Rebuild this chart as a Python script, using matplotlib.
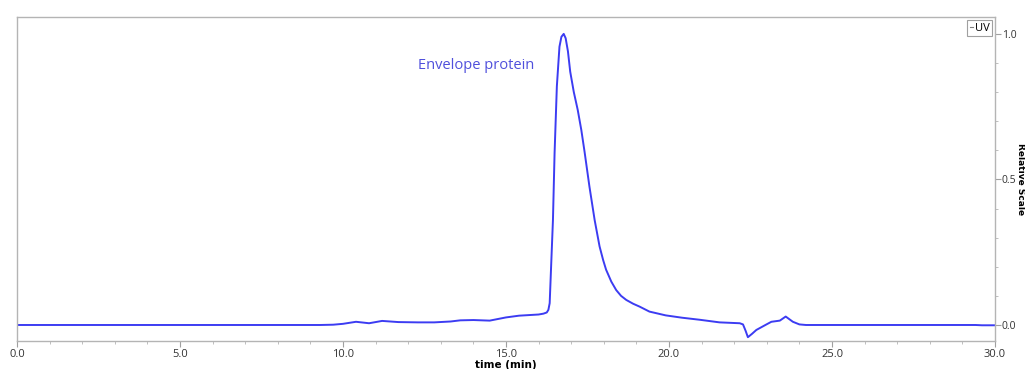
import numpy as np
import matplotlib.pyplot as plt
from matplotlib.ticker import MultipleLocator
from matplotlib.lines import Line2D

# chromatogram trace (time in min, relative UV signal)
time_min = [0.0, 9.3, 9.7, 10.0, 10.4, 10.8, 11.2, 11.7, 12.3, 12.8, 13.3,
            13.6, 14.0, 14.5, 15.0, 15.4, 16.0, 16.15, 16.25, 16.3, 16.34,
            16.38, 16.44, 16.49, 16.56, 16.64, 16.7, 16.77, 16.83, 16.9,
            16.97, 17.08, 17.2, 17.31, 17.41, 17.56, 17.72, 17.87, 17.98,
            18.07, 18.23, 18.38, 18.53, 18.69, 18.9, 19.1, 19.4, 19.9, 20.4,
            20.94, 21.55, 22.17, 22.27, 22.35, 22.42, 22.55, 22.68, 22.99,
            23.14, 23.4, 23.58, 23.8, 24.0, 24.2, 29.4, 29.6, 30.0]
uv_signal = [0.0, 0.0, 0.001, 0.004, 0.011, 0.006, 0.014, 0.010, 0.009,
             0.009, 0.012, 0.016, 0.017, 0.015, 0.026, 0.032, 0.036, 0.039,
             0.043, 0.052, 0.075, 0.19, 0.36, 0.59, 0.82, 0.956, 0.99, 1.0,
             0.985, 0.94, 0.87, 0.80, 0.739, 0.67, 0.595, 0.475, 0.360,
             0.270, 0.223, 0.190, 0.149, 0.120, 0.100, 0.086, 0.073, 0.063,
             0.046, 0.033, 0.025, 0.018, 0.009, 0.006, 0.002, -0.02, -0.042,
             -0.03, -0.017, 0.002, 0.011, 0.015, 0.029, 0.011, 0.002, 0.0,
             0.0, -0.001, -0.001]

fig = plt.figure(figsize=(10.25, 3.69), dpi=100)
ax = fig.add_axes([17 / 1025, 28 / 369, 978 / 1025, 324 / 369])

ax.plot(time_min, uv_signal, color="#3c3cf2", lw=1.4)

ax.set_xlim(0, 30)
ax.set_ylim(-0.055, 1.058)

ax.xaxis.set_major_locator(MultipleLocator(5))
ax.xaxis.set_minor_locator(MultipleLocator(1))
ax.yaxis.set_major_locator(MultipleLocator(0.5))
ax.yaxis.set_minor_locator(MultipleLocator(0.1))
ax.xaxis.set_major_formatter(plt.FormatStrFormatter("%.1f"))
ax.yaxis.set_major_formatter(plt.FormatStrFormatter("%.1f"))

ax.yaxis.tick_right()
ax.yaxis.set_label_position("right")
for sp in ax.spines.values():
    sp.set_color("#b4b4b4")
    sp.set_linewidth(1.0)

ax.tick_params(axis="both", which="major", length=4, color="#a0a0a0",
               labelsize=8, labelcolor="#333333", pad=1.5)
ax.tick_params(axis="y", which="major", labelsize=7.5, pad=1)
ax.tick_params(axis="both", which="minor", length=2, color="#b4b4b4")
for lab in ax.get_xticklabels() + ax.get_yticklabels():
    lab.set_family("Open Sans")

ax.set_xlabel("time (min)", fontsize=7.5, fontweight="bold", labelpad=0)
ax.set_ylabel("Relative Scale", fontsize=6.5, fontweight="bold",
              rotation=270, va="center")
ax.yaxis.set_label_coords(1.0258, 0.5)

ax.text(14.08, 0.89, "Envelope protein", color="#5050dc",
        fontsize=10.5, family="Open Sans", ha="center", va="center")

handle = Line2D([], [], color="#808080", lw=0.8)
leg = ax.legend([handle], ["UV"], loc="upper right",
                prop={"family": "Open Sans", "size": 8},
                handlelength=0.3, handletextpad=0.15, borderpad=0.2,
                borderaxespad=0.3, fancybox=False, framealpha=1)
leg.get_frame().set_edgecolor("#a0a0a0")
leg.get_frame().set_linewidth(0.8)

fig.savefig("out.png", dpi=100)
